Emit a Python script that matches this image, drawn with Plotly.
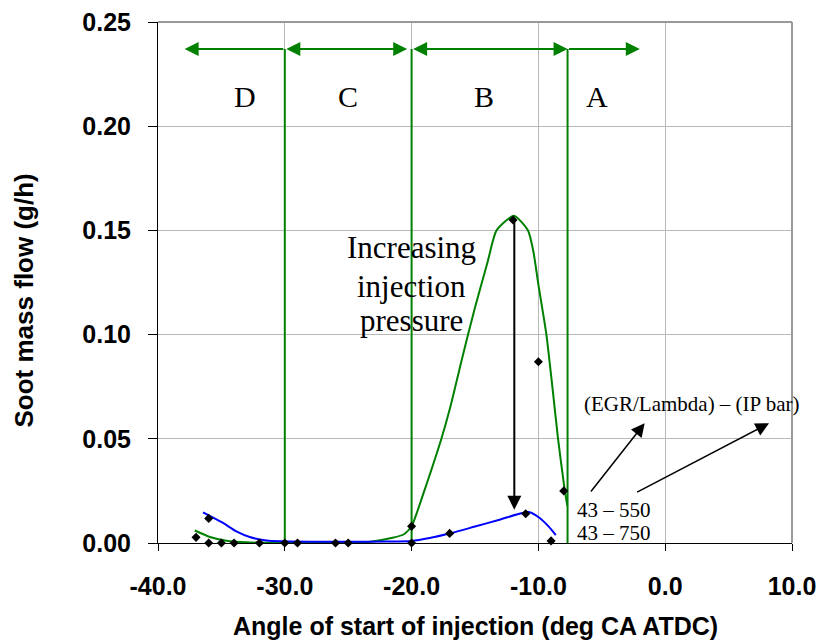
import plotly.graph_objects as go

# Measured start of injection (deg CA ATDC) and soot mass flow (g/h)
soi_550 = [-37, -36, -35, -34, -32, -30, -26, -20, -12, -10, -8]
soot_550 = [0.0027, 0.0, 0.0, 0.0, 0.0, 0.0, 0.0, 0.008, 0.155, 0.087, 0.025]
soi_750 = [-36, -29, -25, -20, -17, -11, -9]
soot_750 = [0.0118, 0.0, 0.0, 0.0, 0.0046, 0.014, 0.001]

# Smoothed trend lines for the two injection pressures
trend_550_x = [-37.1, -35.9, -34.6, -33.0, -30.0, -26.0, -23.5, -21.5, -20.6, -20.0,
               -19.5, -19.0, -18.5, -17.65, -17.0, -16.0, -15.55, -15.0, -14.0, -13.3,
               -11.93, -10.82, -10.4, -10.0, -9.37, -8.9,
               -8.45, -7.93, -7.72]
trend_550_y = [0.0060, 0.0029, 0.0011, 0.0003, 0.0, 0.0, 0.0004, 0.0025, 0.0042, 0.008,
               0.016, 0.025, 0.034, 0.050, 0.064, 0.089, 0.100, 0.113, 0.135, 0.150,
               0.157, 0.150, 0.140, 0.124, 0.100, 0.075,
               0.050, 0.0256, 0.018]
trend_750_x = [-36.45, -34.87, -33.82, -32.77, -31.45, -30.1, -28.0, -25.0, -22.0, -20.0,
               -18.58, -16.86, -15.0, -13.0, -11.5, -10.7, -9.9, -9.2, -8.63]
trend_750_y = [0.0147, 0.0096, 0.0056, 0.0029, 0.0012, 0.0008, 0.0006, 0.0006, 0.0007, 0.0010,
               0.0024, 0.0048, 0.0079, 0.0113, 0.0140, 0.0148, 0.0120, 0.0080, 0.0038]

# Combustion regimes: boundaries, span arrows and labels
boundaries = [-30.0, -20.0, -7.7]
regime_top = 0.237
regime_labels = ["D", "C", "B", "A"]
regime_label_x = [-33.1, -25.0, -14.3, -5.4]
regime_label_y = 0.2144
regime_outer = [-37.9, -2.0]

x_ticks = [-40, -30, -20, -10, 0, 10]
y_ticks = [0.0, 0.05, 0.10, 0.15, 0.20, 0.25]

GREEN = "#008000"
BLUE = "#0000ff"
SERIF = "Liberation Serif, Times New Roman, serif"
SANS = "Liberation Sans, Arial, sans-serif"

fig = go.Figure()

fig.add_trace(go.Scatter(x=trend_550_x, y=trend_550_y, mode="lines",
                         line=dict(color=GREEN, width=2, shape="spline", smoothing=0.6),
                         hoverinfo="skip", showlegend=False))
fig.add_trace(go.Scatter(x=trend_750_x, y=trend_750_y, mode="lines",
                         line=dict(color=BLUE, width=2, shape="spline", smoothing=0.8),
                         hoverinfo="skip", showlegend=False))

# regime boundary lines
bx, by = [], []
for b in boundaries:
    bx += [b, b, None]
    by += [0, regime_top, None]
fig.add_trace(go.Scatter(x=bx, y=by, mode="lines", line=dict(color=GREEN, width=2),
                         hoverinfo="skip", showlegend=False, cliponaxis=False))

fig.add_trace(go.Scatter(x=soi_550, y=soot_550, mode="markers",
                         marker=dict(symbol="diamond", size=7, color="black"),
                         showlegend=False, cliponaxis=False))
fig.add_trace(go.Scatter(x=soi_750, y=soot_750, mode="markers",
                         marker=dict(symbol="diamond", size=7, color="black"),
                         showlegend=False, cliponaxis=False))

ann = []


def arrow(tip_x, tip_y, tail_x, tail_y, color, width, size, both=False):
    d = dict(x=tip_x, y=tip_y, ax=tail_x, ay=tail_y, xref="x", yref="y",
             axref="x", ayref="y", text="", showarrow=True, arrowhead=2,
             arrowsize=size, arrowwidth=width, arrowcolor=color, standoff=0)
    if both:
        d.update(arrowside="end+start", startarrowhead=2, startarrowsize=size, startstandoff=0)
    ann.append(d)


# span arrows across the top of each regime
arrow(regime_outer[0], regime_top, boundaries[0], regime_top, GREEN, 2, 1.4)
arrow(boundaries[1] - 0.35, regime_top, boundaries[0], regime_top, GREEN, 2, 1.4, both=True)
arrow(boundaries[2], regime_top, boundaries[1], regime_top, GREEN, 2, 1.4, both=True)
arrow(regime_outer[1], regime_top, boundaries[2], regime_top, GREEN, 2, 1.4)

for lab, lx in zip(regime_labels, regime_label_x):
    ann.append(dict(x=lx, y=regime_label_y, xref="x", yref="y", text=lab, showarrow=False,
                    font=dict(family=SERIF, size=30, color="black")))

# injection pressure effect
peak_x = soi_550[soot_550.index(max(soot_550))]
arrow(peak_x + 0.1, 0.016, peak_x + 0.1, max(soot_550), "black", 2, 1.4)
for txt, ty in zip(["Increasing", "injection", "pressure"], [0.1416, 0.1233, 0.1066]):
    ann.append(dict(x=-20.0, y=ty, xref="x", yref="y", text=txt, showarrow=False,
                    font=dict(family=SERIF, size=31, color="black")))

# series key
ann.append(dict(x=2.11, y=0.0666, xref="x", yref="y", text="(EGR/Lambda) – (IP bar)",
                showarrow=False, font=dict(family=SERIF, size=21, color="black")))
ann.append(dict(x=-7.1, y=0.0158, xref="x", yref="y", text="43 – 550", xanchor="left",
                showarrow=False, font=dict(family=SERIF, size=21, color="black")))
ann.append(dict(x=-7.1, y=0.0049, xref="x", yref="y", text="43 – 750", xanchor="left",
                showarrow=False, font=dict(family=SERIF, size=21, color="black")))
arrow(-1.62, 0.0575, -5.95, 0.024, "black", 1.5, 1.8)
arrow(8.19, 0.0575, -2.33, 0.024, "black", 1.5, 1.8)

# axis titles
ann.append(dict(x=0.5, y=-0.1593, xref="paper", yref="paper", xanchor="center",
                yanchor="middle", text="Angle of start of injection (deg CA ATDC)",
                showarrow=False, font=dict(family=SANS, size=25, color="black", weight=700)))
ann.append(dict(x=-0.2106, y=0.4664, xref="paper", yref="paper", textangle=-90,
                xanchor="center", yanchor="middle", text="Soot mass flow (g/h)",
                showarrow=False, font=dict(family=SANS, size=26, color="black", weight=700)))

tick_font = dict(family=SANS, size=25, color="black", weight=700)

fig.update_layout(
    width=822, height=642,
    margin=dict(l=158, r=30, t=22, b=99, autoexpand=False),
    paper_bgcolor="white", plot_bgcolor="white",
    annotations=ann,
    xaxis=dict(range=[-40, 10], tickvals=x_ticks, ticktext=[f"{v:.1f}" for v in x_ticks],
               showgrid=True, gridcolor="#b8b8b8", gridwidth=1, zeroline=False,
               showline=True, linecolor="black", linewidth=1,
               ticks="outside", ticklen=7, tickcolor="black", tickfont=tick_font,
               ticklabelstandoff=14),
    yaxis=dict(range=[0, 0.25], tickvals=y_ticks, ticktext=[f"{v:.2f}" for v in y_ticks],
               showgrid=True, gridcolor="#b8b8b8", gridwidth=1, zeroline=False,
               showline=True, linecolor="black", linewidth=1,
               ticks="outside", ticklen=9, tickcolor="black", tickfont=tick_font,
               ticklabelstandoff=12),
    shapes=[
        dict(type="line", xref="paper", yref="paper", x0=0, x1=1, y0=1, y1=1,
             line=dict(color="#999999", width=2)),
        dict(type="line", xref="paper", yref="paper", x0=1, x1=1, y0=0, y1=1,
             line=dict(color="#999999", width=2)),
    ],
)

fig.write_html("out.html")
